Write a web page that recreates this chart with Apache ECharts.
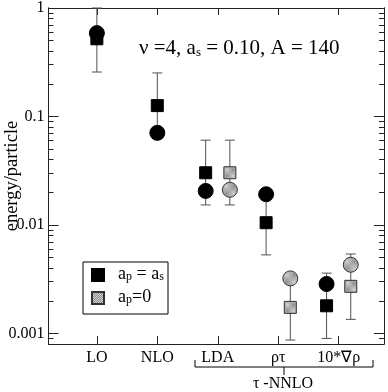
<!DOCTYPE html>
<html><head><meta charset="utf-8">
<script src="https://cdn.jsdelivr.net/npm/echarts@6/dist/echarts.min.js"></script>
<style>html,body{margin:0;padding:0;background:#fff}#c{width:388px;height:392px}</style>
</head><body><div id="c"></div>
<script>
// ---- data ----
const categories = ['LO', 'NLO', 'LDA', 'ρτ', '10*∇ρ'];
const catPos = [1, 2, 3, 4, 5];
// a_p = a_s (black)
const blackX = [1, 2, 2.8, 3.8, 4.8];
const blackSquare = [0.52, 0.126, 0.0303, 0.0105, 0.0018];
const blackCircle = [0.587, 0.0707, 0.0206, 0.0192, 0.00286];
const blackErrLow = [0.257, 0.0707, 0.0153, 0.0053, 0.0009];
const blackErrHigh = [1.0, 0.252, 0.0605, 0.0192, 0.0036];
// a_p = 0 (grey)
const greyX = [3.2, 4.2, 5.2];
const greySquare = [0.0303, 0.00174, 0.00272];
const greyCircle = [0.0211, 0.00322, 0.0043];
const greyErrLow = [0.0153, 0.00087, 0.00135];
const greyErrHigh = [0.0605, 0.00322, 0.0054];
// axis ticks
const yMajorTicks = [0.001, 0.01, 0.1, 1];
const yMinorTicks = [0.0008, 0.0009, 0.002, 0.003, 0.004, 0.005, 0.006, 0.007, 0.008, 0.009,
  0.02, 0.03, 0.04, 0.05, 0.06, 0.07, 0.08, 0.09, 0.2, 0.3, 0.4, 0.5, 0.6, 0.7, 0.8, 0.9];

const SERIF = 'Liberation Serif';
const pc = document.createElement('canvas');
pc.width = 2; pc.height = 2;
const g = pc.getContext('2d');
g.fillStyle = '#d4d4d4'; g.fillRect(0, 0, 2, 2);
g.fillStyle = '#8c8c8c'; g.fillRect(1, 0, 1, 1); g.fillRect(0, 1, 1, 1);
const greyFill = { image: pc, repeat: 'repeat' };

const zip = (xs, ys) => xs.map((x, i) => [x, ys[i]]);
const zip3 = (xs, a, b) => xs.map((x, i) => [x, a[i], b[i]]);

function errRender(params, api) {
  const x = api.value(0), lo = api.value(1), hi = api.value(2);
  const p1 = api.coord([x, hi]), p2 = api.coord([x, lo]);
  const hw = 5, st = { stroke: '#505050', lineWidth: 1 };
  return { type: 'group', children: [
    { type: 'line', shape: { x1: p1[0], y1: p1[1], x2: p2[0], y2: p2[1] }, style: st },
    { type: 'line', shape: { x1: p1[0] - hw, y1: p1[1], x2: p1[0] + hw, y2: p1[1] }, style: st },
    { type: 'line', shape: { x1: p2[0] - hw, y1: p2[1], x2: p2[0] + hw, y2: p2[1] }, style: st }
  ]};
}

const axisLine = { show: true, lineStyle: { color: '#222', width: 1 } };
const yBase = { type: 'log', logBase: 10, min: 0.0008, max: 1, splitLine: { show: false }, axisLine: axisLine };
const xBase = { type: 'value', min: 0.2, max: 5.75, splitLine: { show: false }, axisLine: axisLine };

const subRich = {
  m: { fontFamily: SERIF, fontSize: 18, color: '#000', lineHeight: 20, verticalAlign: 'bottom' },
  t: { fontFamily: SERIF, fontSize: 12, color: '#000', lineHeight: 12, verticalAlign: 'bottom', padding: [10, 0, 0, 0] }
};

const chart = echarts.init(document.getElementById('c'));
chart.setOption({
  animation: false,
  grid: { left: 48.5, right: 4, top: 6.5, bottom: 48 },
  xAxis: [
    Object.assign({}, xBase, { position: 'bottom',
      axisTick: { inside: true, length: 8, customValues: catPos, lineStyle: { color: '#222' } },
      axisLabel: { customValues: catPos, formatter: v => categories[Math.round(v) - 1], fontFamily: SERIF, fontSize: 16, color: '#000', margin: 6 } }),
    Object.assign({}, xBase, { position: 'top',
      axisTick: { inside: true, length: 7, customValues: catPos, lineStyle: { color: '#222' } },
      axisLabel: { show: false } })
  ],
  yAxis: [
    Object.assign({}, yBase, { position: 'left',
      axisTick: { inside: true, length: 10, customValues: yMajorTicks, lineStyle: { color: '#222' } },
      axisLabel: { customValues: yMajorTicks, formatter: v => String(v), fontFamily: SERIF, fontSize: 16, color: '#000', margin: 4 } }),
    Object.assign({}, yBase, { position: 'left',
      axisTick: { inside: true, length: 5, customValues: yMinorTicks, lineStyle: { color: '#222' } },
      axisLabel: { show: false } }),
    Object.assign({}, yBase, { position: 'right',
      axisTick: { inside: true, length: 10, customValues: yMajorTicks, lineStyle: { color: '#222' } },
      axisLabel: { show: false } }),
    Object.assign({}, yBase, { position: 'right',
      axisTick: { inside: true, length: 5, customValues: yMinorTicks, lineStyle: { color: '#222' } },
      axisLabel: { show: false } })
  ],
  legend: {
    data: ['sqB', 'sqG'], orient: 'vertical', left: 83, top: 262,
    itemWidth: 12, itemHeight: 12, itemGap: 7, padding: [5, 8, 8, 8],
    borderColor: '#000', borderWidth: 1, borderRadius: 0, selectedMode: false,
    icon: 'rect',
    formatter: () => '{w|}',
    textStyle: { rich: { w: { width: 51, height: 16, lineHeight: 16 } } }
  },
  series: [
    { type: 'custom', name: 'errB', renderItem: errRender, encode: { x: 0, y: [1, 2] }, data: zip3(blackX, blackErrLow, blackErrHigh), z: 1 },
    { type: 'custom', name: 'errG', renderItem: errRender, encode: { x: 0, y: [1, 2] }, data: zip3(greyX, greyErrLow, greyErrHigh), z: 1 },
    { type: 'scatter', name: 'sqB', symbol: 'rect', symbolSize: 12, data: zip(blackX, blackSquare),
      itemStyle: { color: '#000', borderColor: '#000', borderWidth: 1, opacity: 1 }, z: 3 },
    { type: 'scatter', name: 'sqG', symbol: 'rect', symbolSize: 12, data: zip(greyX, greySquare),
      itemStyle: { color: greyFill, borderColor: '#333', borderWidth: 1, opacity: 1 }, z: 3 },
    { type: 'scatter', name: 'ciB', symbol: 'circle', symbolSize: 15, data: zip(blackX, blackCircle),
      itemStyle: { color: '#000', borderColor: '#000', borderWidth: 1, opacity: 1 }, z: 4 },
    { type: 'scatter', name: 'ciG', symbol: 'circle', symbolSize: 15, data: zip(greyX, greyCircle),
      itemStyle: { color: greyFill, borderColor: '#333', borderWidth: 1, opacity: 1 }, z: 4 }
  ],
  graphic: [
    { type: 'text', left: 139, top: 37, style: {
      text: '{m|ν =4, a}{t|s}{m| = 0.10, A = 140}',
      rich: {
        m: { fontFamily: SERIF, fontSize: 21, color: '#000', lineHeight: 24, verticalAlign: 'bottom' },
        t: { fontFamily: SERIF, fontSize: 13, color: '#000', lineHeight: 14, verticalAlign: 'bottom', padding: [9, 0, 0, 0] }
      } } },
    { type: 'text', x: 118, y: 263, z: 100, style: { text: '{m|a}{t|p}{m| = a}{t|s}', rich: subRich, verticalAlign: 'top' } },
    { type: 'text', x: 118, y: 286, z: 100, style: { text: '{m|a}{t|p}{m|=0}', rich: subRich, verticalAlign: 'top' } },
    { type: 'text', x: 12, y: 176, rotation: Math.PI / 2, style: {
      text: 'energy/particle', fontFamily: SERIF, fontSize: 18.5, fill: '#000', align: 'center', verticalAlign: 'middle' } },
    { type: 'polyline', shape: { points: [[195, 360], [195, 367], [373, 367], [373, 360]] }, style: { stroke: '#000', lineWidth: 1, fill: null } },
    { type: 'line', shape: { x1: 284, y1: 367, x2: 284, y2: 375 }, style: { stroke: '#000', lineWidth: 1 } },
    { type: 'text', x: 283, y: 384, style: { text: 'τ -NNLO', fontFamily: SERIF, fontSize: 16, fill: '#000', align: 'center', verticalAlign: 'middle' } }
  ]
});
</script>
</body></html>
